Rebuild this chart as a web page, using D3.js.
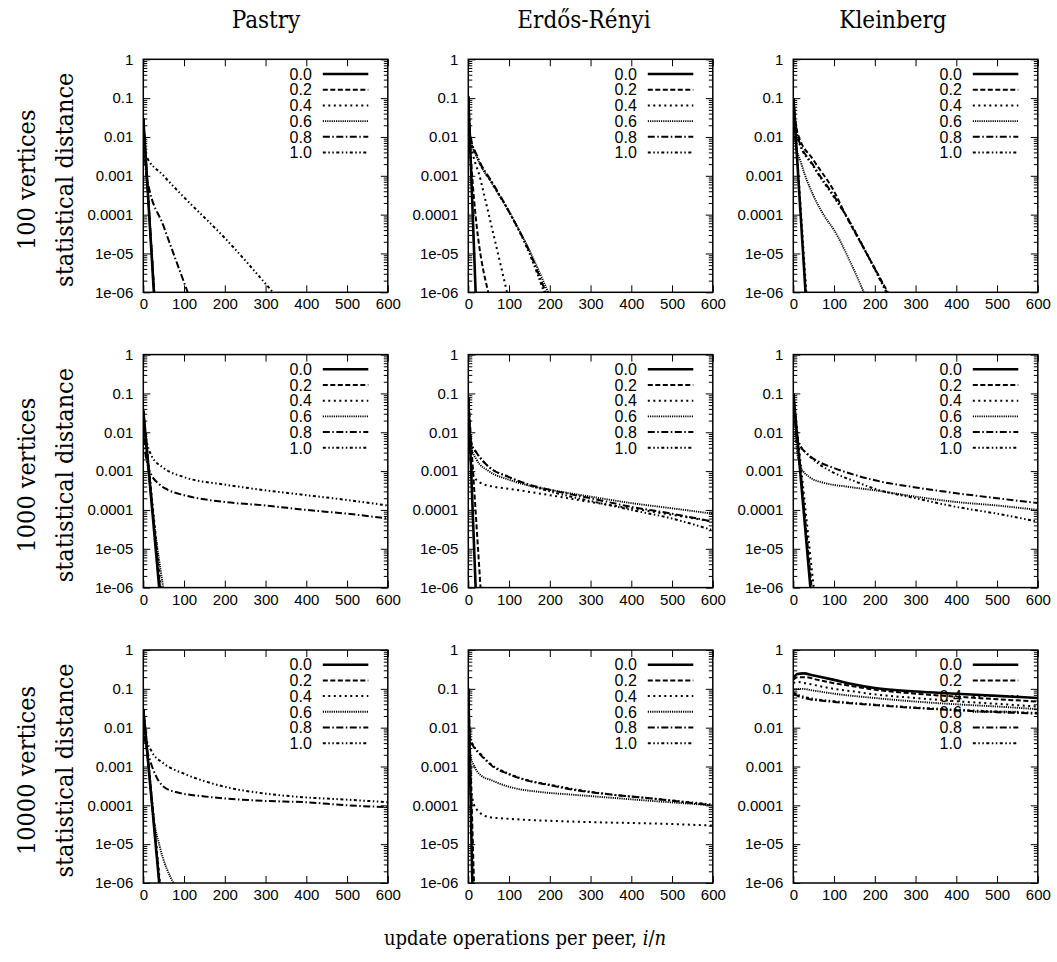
<!DOCTYPE html>
<html><head><meta charset="utf-8">
<script src="https://cdn.jsdelivr.net/npm/d3@7"></script>
<style>body{margin:0;background:#fff}</style>
</head><body><svg id="c" width="1057" height="962"></svg>
<script>
// ---------- data ----------
const networks = ["Pastry", "Erdős-Rényi", "Kleinberg"];
const sizes = ["100 vertices", "1000 vertices", "10000 vertices"];
const seriesNames = ["0.0", "0.2", "0.4", "0.6", "0.8", "1.0"];
const xTicks = [0, 100, 200, 300, 400, 500, 600];
const yTicks = [1, 0.1, 0.01, 0.001, 0.0001, 1e-5, 1e-6];
const yTickLabels = ["1", "0.1", "0.01", "0.001", "0.0001", "1e-05", "1e-06"];

// each panel: six series (0.0 .. 1.0) of [x, distance]
const pastry100 = [
  [[0,0.03],[26,1e-6]],
  [[0,0.03],[26.5,1e-6]],
  [[0,0.03],[27,1e-6]],
  [[0,0.03],[27,1e-6]],
  [[0,0.03],[2,0.008],[5,0.002],[10,0.0008],[50,0.00005],[109,1e-6]],
  [[0,0.03],[1,0.008],[3,0.004],[50,0.001],[100,0.00028],[200,0.000025],[318,1e-6]]
];
const erdos100 = [
  [[0,0.11],[18,1e-6]],
  [[0,0.11],[3,0.01],[49,1e-6]],
  [[0,0.11],[5,0.01],[30,0.0008],[95,1e-6]],
  [[0,0.11],[5,0.01],[22,0.0029],[60,0.0006],[104,0.0001],[150,0.000012],[196,1e-6]],
  [[0,0.11],[5,0.011],[22,0.0032],[60,0.00065],[104,0.0001],[150,0.000011],[190,1e-6]],
  [[0,0.11],[5,0.01],[22,0.003],[60,0.0006],[104,0.0001],[150,0.00001],[186,1e-6]]
];
const klein100 = [
  [[0,0.1],[30,1e-6]],
  [[0,0.1],[10,0.013],[50,0.0025],[100,0.0004],[128,0.0001],[180,0.00001],[232,1e-6]],
  [[0,0.1],[32,1e-6]],
  [[0,0.1],[5,0.008],[20,0.002],[50,0.0003],[80,0.00008],[100,0.00004],[140,0.000006],[173,1e-6]],
  [[0,0.1],[10,0.011],[50,0.0018],[100,0.0003],[128,0.0001],[180,0.00001],[230,1e-6]],
  [[0,0.1],[10,0.01],[50,0.0017],[100,0.00028],[128,0.0001],[180,0.00001],[228,1e-6]]
];
const pastry1000 = [
  [[0,0.036],[39,1e-6]],
  [[0,0.036],[41,1e-6]],
  [[0,0.036],[43,1e-6]],
  [[0,0.036],[10,0.002],[49,1e-6]],
  [[0,0.035],[2,0.008],[5,0.003],[10,0.0015],[20,0.0008],[40,0.00045],[60,0.00033],[100,0.00024],[200,0.00016],[300,0.00013],[400,0.0001],[500,0.00008],[600,0.00006]],
  [[0,0.035],[3,0.012],[8,0.006],[20,0.0025],[50,0.0012],[100,0.0007],[200,0.00045],[300,0.00032],[400,0.00024],[500,0.00018],[600,0.00013]]
];
const erdos1000 = [
  [[0,0.08],[18,1e-6]],
  [[0,0.08],[30,1e-6]],
  [[0,0.08],[3,0.005],[8,0.0012],[15,0.0007],[30,0.0005],[60,0.0004],[100,0.00035],[200,0.00024],[300,0.00016],[400,0.00011],[500,0.000075],[600,0.00005]],
  [[0,0.08],[3,0.01],[8,0.004],[20,0.002],[50,0.001],[100,0.0006],[150,0.00042],[200,0.00033],[300,0.00022],[400,0.00015],[500,0.00011],[600,0.00008]],
  [[0,0.08],[3,0.012],[8,0.005],[20,0.003],[50,0.0013],[100,0.0007],[150,0.00045],[200,0.00033],[300,0.0002],[400,0.00012],[500,0.00008],[600,0.00005]],
  [[0,0.08],[3,0.012],[8,0.005],[20,0.003],[50,0.0013],[100,0.0007],[150,0.00043],[200,0.0003],[300,0.00017],[400,0.0001],[500,0.00006],[600,0.00003]]
];
const klein1000 = [
  [[0,0.1],[42,1e-6]],
  [[0,0.1],[45,1e-6]],
  [[0,0.1],[50,1e-6]],
  [[0,0.1],[3,0.02],[8,0.004],[18,0.0013],[40,0.0007],[75,0.0005],[130,0.0004],[200,0.00032],[300,0.00022],[400,0.00016],[500,0.00013],[600,0.0001]],
  [[0,0.1],[3,0.03],[8,0.01],[15,0.005],[34,0.0028],[60,0.0018],[100,0.0012],[150,0.0008],[200,0.00058],[300,0.00038],[400,0.00027],[500,0.0002],[600,0.00015]],
  [[0,0.1],[3,0.03],[8,0.01],[15,0.005],[34,0.0028],[60,0.0016],[100,0.0009],[150,0.00055],[200,0.00035],[300,0.0002],[400,0.00012],[500,0.00008],[600,0.00005]]
];
const pastry10000 = [
  [[0,0.03],[39,1e-6]],
  [[0,0.03],[40,1e-6]],
  [[0,0.03],[41,1e-6]],
  [[0,0.03],[15,0.0005],[25,0.00005],[40,0.000009],[74,1e-6]],
  [[0,0.03],[3,0.006],[8,0.003],[16,0.0015],[30,0.0006],[50,0.0003],[80,0.00022],[150,0.00017],[200,0.00015],[300,0.00013],[400,0.00012],[500,0.0001],[600,0.00009]],
  [[0,0.03],[3,0.01],[8,0.005],[20,0.0025],[50,0.0012],[100,0.00065],[150,0.00042],[200,0.0003],[300,0.0002],[400,0.00016],[500,0.00014],[600,0.00012]]
];
const erdos10000 = [
  [[0,0.1],[10,1e-6]],
  [[0,0.1],[14,1e-6]],
  [[0,0.1],[2,0.003],[5,0.0006],[10,0.00015],[20,0.00008],[50,0.00005],[100,0.000045],[200,0.00004],[300,0.000037],[400,0.000035],[500,0.000033],[600,0.00003]],
  [[0,0.1],[2,0.005],[5,0.002],[15,0.001],[30,0.0006],[55,0.00045],[100,0.0003],[177,0.00022],[250,0.00019],[340,0.00016],[450,0.00013],[600,0.0001]],
  [[0,0.1],[2,0.01],[5,0.005],[15,0.003],[30,0.002],[60,0.001],[95,0.00066],[150,0.00042],[200,0.00033],[259,0.00025],[350,0.00019],[450,0.00015],[600,0.0001]],
  [[0,0.1],[2,0.01],[5,0.0055],[15,0.0032],[30,0.0021],[60,0.00105],[95,0.00068],[150,0.00043],[200,0.00034],[259,0.00026],[350,0.00019],[450,0.00015],[600,0.000105]]
];
const klein10000 = [
  [[0,0.19],[10,0.24],[25,0.25],[50,0.22],[100,0.17],[150,0.13],[200,0.105],[300,0.085],[400,0.075],[500,0.066],[600,0.058]],
  [[0,0.17],[10,0.2],[30,0.2],[60,0.17],[100,0.14],[150,0.115],[200,0.095],[300,0.075],[400,0.063],[500,0.054],[600,0.047]],
  [[0,0.14],[10,0.15],[30,0.14],[60,0.12],[100,0.1],[150,0.085],[200,0.072],[300,0.058],[400,0.048],[500,0.041],[600,0.035]],
  [[0,0.1],[20,0.1],[50,0.09],[100,0.075],[200,0.058],[300,0.047],[400,0.04],[500,0.035],[600,0.03]],
  [[0,0.075],[20,0.06],[50,0.052],[100,0.046],[200,0.038],[300,0.032],[400,0.028],[500,0.025],[600,0.023]],
  [[0,0.08],[20,0.065],[50,0.055],[100,0.048],[200,0.039],[300,0.033],[400,0.029],[500,0.026],[600,0.024]]
];
const panelData = [
  [pastry100, erdos100, klein100],
  [pastry1000, erdos1000, klein1000],
  [pastry10000, erdos10000, klein10000]
];

// ---------- styles / layout ----------
const dashes = [null, "5,2.5", "2,3.5", "1.2,1", "7,2.5,1.5,2.5", "3,2.5,1.5,2.5,1.5,2.5"];
const widths = [2.6, 2, 2, 1.9, 2, 2];
const plotW = 244.5, plotH = 233;
const lefts = [143.3, 468.3, 793.3];
const tops = [59.3, 354.6, 650];
const titleX = [266, 584, 893];

const svg = d3.select("#c");
const sans = "'Liberation Sans', Arial, Helvetica, sans-serif";
const serif = "'DejaVu Serif Condensed', 'DejaVu Serif', 'Liberation Serif', serif";

// column titles
networks.forEach((n, j) => {
  svg.append("text").attr("x", titleX[j]).attr("y", 28)
    .attr("text-anchor", "middle").attr("font-family", serif).attr("font-size", 24)
    .text(n);
});
// row labels
sizes.forEach((s, i) => {
  const cy = tops[i] + plotH / 2 + 4;
  svg.append("text").attr("transform", `translate(35,${cy}) rotate(-90)`)
    .attr("text-anchor", "middle").attr("font-family", serif).attr("font-size", 25)
    .text(s);
  svg.append("text").attr("transform", `translate(73,${cy}) rotate(-90)`)
    .attr("text-anchor", "middle").attr("font-family", serif).attr("font-size", 25)
    .text("statistical distance");
});
// x title
const xt = svg.append("text").attr("x", 525).attr("y", 945).attr("text-anchor", "middle")
  .attr("font-family", serif).attr("font-size", 20);
xt.append("tspan").text("update operations per peer, ");
xt.append("tspan").attr("font-style", "italic").text("i");
xt.append("tspan").text("/");
xt.append("tspan").attr("font-style", "italic").text("n");

const minorTicks = [];
for (let e = -6; e < 0; e++) for (let m = 2; m <= 9; m++) minorTicks.push(m * Math.pow(10, e));

panelData.forEach((row, i) => {
  row.forEach((panel, j) => {
    const L = lefts[j], T = tops[i];
    const x = d3.scaleLinear().domain([0, 600]).range([0, plotW]);
    const y = d3.scaleLog().domain([1e-6, 1]).range([plotH, 0]);
    const g = svg.append("g").attr("transform", `translate(${L},${T})`);
    const cid = `clip${i}${j}`;
    g.append("clipPath").attr("id", cid).append("rect").attr("width", plotW).attr("height", plotH);

    const styleAxis = sel => {
      sel.select(".domain").remove();
      sel.selectAll("line").attr("stroke", "#000").attr("stroke-width", 1);
      sel.selectAll("text").attr("font-family", sans).attr("font-size", 15).attr("fill", "#000");
    };
    g.append("g").call(d3.axisLeft(y).tickValues(yTicks).tickFormat((d, k) => yTickLabels[k])
      .tickSizeInner(-7).tickSizeOuter(0).tickPadding(10)).call(styleAxis);
    g.append("g").call(d3.axisLeft(y).tickValues(minorTicks).tickFormat("")
      .tickSizeInner(-4).tickSizeOuter(0)).call(styleAxis);
    g.append("g").attr("transform", `translate(${plotW},0)`)
      .call(d3.axisRight(y).tickValues(yTicks).tickFormat("").tickSizeInner(-7).tickSizeOuter(0)).call(styleAxis);
    g.append("g").attr("transform", `translate(${plotW},0)`)
      .call(d3.axisRight(y).tickValues(minorTicks).tickFormat("").tickSizeInner(-4).tickSizeOuter(0)).call(styleAxis);
    g.append("g").attr("transform", `translate(0,${plotH})`)
      .call(d3.axisBottom(x).tickValues(xTicks).tickFormat(d3.format("d"))
        .tickSizeInner(-7).tickSizeOuter(0).tickPadding(6.5)).call(styleAxis);
    g.append("g").call(d3.axisTop(x).tickValues(xTicks).tickFormat("")
      .tickSizeInner(-7).tickSizeOuter(0)).call(styleAxis);

    // legend
    seriesNames.forEach((s, k) => {
      const ly = 14.7 + k * 15.7;
      g.append("text").attr("x", plotW - 76).attr("y", ly).attr("dy", "0.36em")
        .attr("text-anchor", "end").attr("font-family", sans).attr("font-size", 16).text(s);
      g.append("line").attr("x1", plotW - 65).attr("x2", plotW - 19.5).attr("y1", ly).attr("y2", ly)
        .attr("stroke", "#000").attr("stroke-width", widths[k])
        .attr("stroke-dasharray", dashes[k]);
    });

    // curves
    const line = d3.line().x(d => x(d[0])).y(d => y(d[1])).curve(d3.curveMonotoneX);
    const cg = g.append("g").attr("clip-path", `url(#${cid})`);
    panel.forEach((ser, k) => {
      cg.append("path").attr("d", line(ser)).attr("fill", "none").attr("stroke", "#000")
        .attr("stroke-width", widths[k]).attr("stroke-dasharray", dashes[k])
        .attr("stroke-linejoin", "round");
    });

    // frame
    g.append("rect").attr("width", plotW).attr("height", plotH).attr("fill", "none")
      .attr("stroke", "#000").attr("stroke-width", 1.5);
  });
});
</script></body></html>
